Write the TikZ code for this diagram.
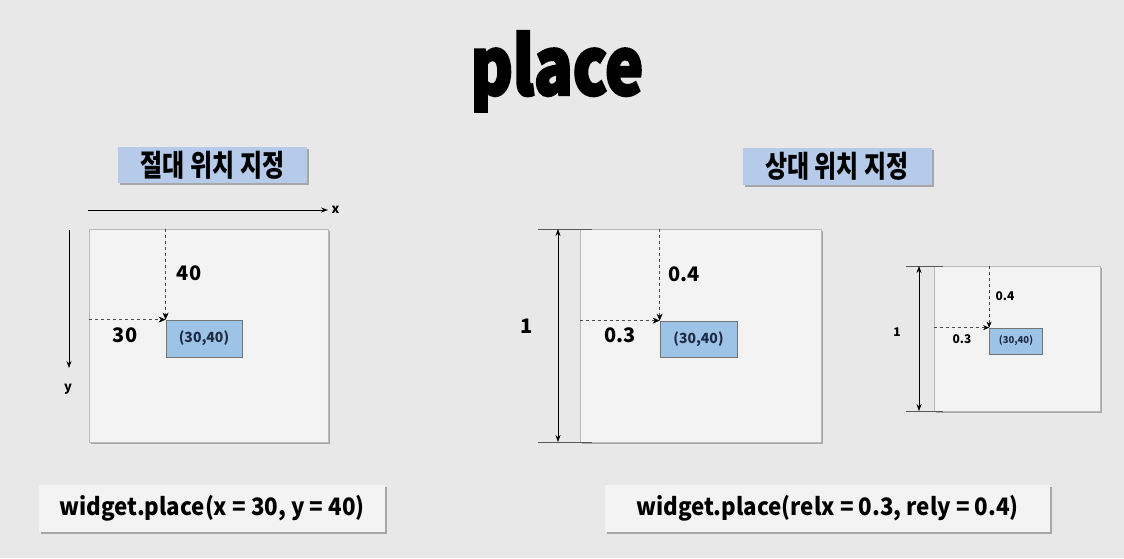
\documentclass[tikz,border=0pt]{standalone}
\usepackage{fontspec}
\setmainfont{Noto Sans CJK KR}
\newfontfamily\condfont{Noto Sans CJK KR}[FakeStretch=0.8]
\newfontfamily\codefont{Noto Sans CJK KR}[FakeStretch=0.93]
\newfontfamily\titlefont{Noto Sans CJK KR}[FakeStretch=0.8,FakeBold=3]
\usepackage{tikz}
\usetikzlibrary{arrows.meta,calc,positioning,shadows}
\definecolor{bgcol}{HTML}{E8E8E8}
\definecolor{sheetcol}{HTML}{F3F3F3}
\definecolor{tagcol}{HTML}{B5CBE9}
\definecolor{cellcol}{HTML}{9DC3E6}
\definecolor{navy}{HTML}{1F2A44}

\begin{document}
\begin{tikzpicture}[x=1pt,y=-1pt,
		sheet/.style={draw=gray!55,fill=sheetcol,line width=0.8pt,drop shadow={shadow xshift=2pt,shadow yshift=-2pt,fill=black!45,opacity=0.7},inner sep=0pt},
		tag/.style={fill=tagcol,inner sep=0pt,drop shadow={shadow xshift=2pt,shadow yshift=-2pt,fill=black!45,opacity=0.7},font=\condfont\bfseries\fontsize{30}{33}\selectfont},
		codebox/.style={fill=sheetcol,inner sep=0pt,drop shadow={shadow xshift=2pt,shadow yshift=-2pt,fill=black!45,opacity=0.7},font=\codefont\bfseries\fontsize{24}{27}\selectfont},
		cell/.style={draw=gray!90!black,fill=cellcol,line width=0.8pt,inner sep=0pt,text=navy},
		guide/.style={dashed,gray!60!black,line width=0.6pt,-{Stealth[length=7pt,width=6pt,black]}},
		dimline/.style={line width=0.6pt,{Stealth[length=7pt,width=5pt]}-{Stealth[length=7pt,width=5pt]}},
		tick/.style={gray!70!black,line width=0.6pt},
		val/.style={font=\bfseries\fontsize{20}{23}\selectfont},
		smallval/.style={font=\bfseries\fontsize{12}{14}\selectfont}
		]
		\fill[bgcol] (0,0) rectangle (1124,558);
		\useasboundingbox (0,0) rectangle (1124,558);
		\node[anchor=base,font=\titlefont\bfseries\fontsize{80}{90}\selectfont] (ttl) at (557,95) {place};
		% absolute
		\node[tag,minimum width=189pt,minimum height=36pt] (absTag) at (212.5,165) {절대 위치 지정};
		\node[sheet,minimum width=239pt,minimum height=213pt] (absWin) at (208.5,335.5) {};
		\node[cell,minimum width=76pt,minimum height=37pt,font=\bfseries\fontsize{14}{16}\selectfont] (absCell) at (204,338.5) {(30,40)};
		\draw[guide] (absCell.north west |- absWin.north) -- (absCell.north west);
		\draw[guide] (absWin.west |- absCell.north west) -- (absCell.north west);
		\node[val] (absY) at (189,273) {40};
		\node[val] (absX) at (125,335) {30};
		\coordinate (xs) at (88,210);
		\coordinate (xe) at (328,210);
		\coordinate (ys) at (69,230);
		\coordinate (ye) at (69,368);
		\draw[line width=0.7pt,-{Stealth[length=7pt,width=5pt]}] (xs) -- (xe) node[right,font=\bfseries\fontsize{13}{15}\selectfont] (xlbl) {x};
		\draw[line width=0.7pt,-{Stealth[length=7pt,width=5pt]}] (ys) -- (ye);
		\node[font=\bfseries\fontsize{13}{15}\selectfont] (ylbl) at (68,389) {y};
		\node[codebox,minimum width=346pt,minimum height=47pt] (absCode) at (212,508.5) {widget.place(x = 30, y = 40)};
		% relative
		\node[tag,minimum width=189pt,minimum height=37pt] (relTag) at (837,166) {상대 위치 지정};
		\node[sheet,minimum width=241pt,minimum height=213pt] (relWin) at (700.5,335.5) {};
		\node[cell,minimum width=77pt,minimum height=36pt,font=\bfseries\fontsize{14}{16}\selectfont] (relCell) at (698.5,339) {(30,40)};
		\draw[guide] (relCell.north west |- relWin.north) -- (relCell.north west);
		\draw[guide] (relWin.west |- relCell.north west) -- (relCell.north west);
		\node[val] (relY) at (684,274) {0.4};
		\node[val] (relX) at (620,335) {0.3};
		\draw[tick] (538,229) coordinate (rt) -- (592,229);
		\draw[tick] (538,442) coordinate (rb) -- (592,442);
		\draw[dimline] ($(rt)+(20,0)$) -- ($(rb)+(20,0)$);
		\node[val] (relOne) at (527,326) {1};
		\node[sheet,minimum width=166pt,minimum height=145pt] (subWin) at (1017,338.5) {};
		\node[cell,minimum width=53pt,minimum height=26pt,font=\bfseries\fontsize{9.5}{11}\selectfont] (subCell) at (1016,341) {(30,40)};
		\draw[guide,-{Stealth[length=6pt,width=5pt,black]}] (subCell.north west |- subWin.north) -- (subCell.north west);
		\draw[guide,-{Stealth[length=6pt,width=5pt,black]}] (subWin.west |- subCell.north west) -- (subCell.north west);
		\node[smallval] (subY) at (1005,296) {0.4};
		\node[smallval] (subX) at (962,339) {0.3};
		\draw[tick] (906,266) coordinate (st) -- (943,266);
		\draw[tick] (906,411) coordinate (sb) -- (943,411);
		\draw[dimline] ($(st)+(13,0)$) -- ($(sb)+(13,0)$);
		\node[smallval] (subOne) at (897,332) {1};
		\node[codebox,minimum width=445pt,minimum height=47pt] (relCode) at (827.5,508.5) {widget.place(relx = 0.3, rely = 0.4)};
\end{tikzpicture}
\end{document}
